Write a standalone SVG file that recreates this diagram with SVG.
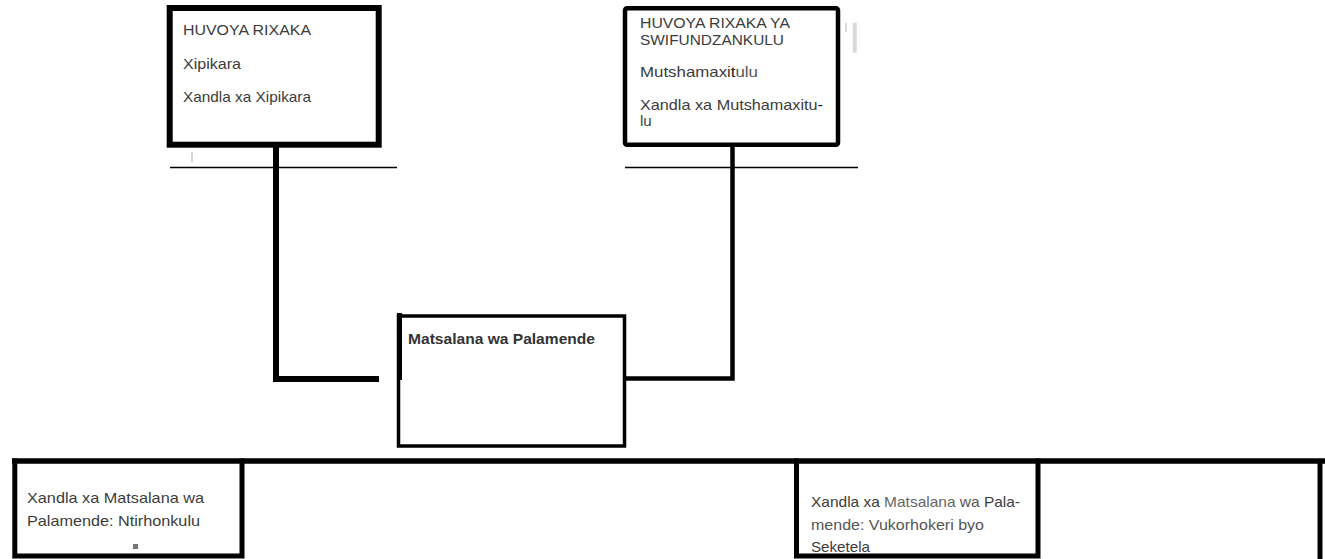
<svg xmlns="http://www.w3.org/2000/svg" width="1325" height="559" viewBox="0 0 1325 559">
<style>
.t{font-family:"Liberation Sans",Arial,sans-serif;font-size:15px;fill:#3c3c3c}
.b{font-weight:bold;fill:#333}
.box{fill:#fff;stroke:#000}
.ln{stroke:#000;fill:none}
.thin{stroke:#000;stroke-width:1.5;fill:none}
.ghost{fill:#d9d9d9}
</style>
<rect width="1325" height="559" fill="#fff"/>
<g id="connectors">
  <line class="thin" x1="170" y1="167.5" x2="397" y2="167.5"/>
  <line class="thin" x1="625" y1="167.5" x2="858" y2="167.5"/>
  <polyline class="ln" stroke-width="6" points="276,147 276,379 379,379"/>
  <polyline class="ln" stroke-width="4.5" points="626,378.5 732.5,378.5 732.5,146"/>
</g>
<g id="node-huvoya-rixaka">
  <rect class="box" x="169.7" y="8" width="209" height="136.7" stroke-width="6"/>
  <text class="t" x="183" y="35" textLength="128" lengthAdjust="spacingAndGlyphs">HUVOYA RIXAKA</text>
  <text class="t" x="183" y="69" textLength="58" lengthAdjust="spacingAndGlyphs">Xipikara</text>
  <text class="t" x="183" y="102" textLength="128" lengthAdjust="spacingAndGlyphs">Xandla xa Xipikara</text>
  <rect class="ghost" x="191" y="152" width="2" height="10"/>
</g>
<g id="node-huvoya-swifundzankulu">
  <rect class="box" x="625" y="8.2" width="213" height="136.5" rx="2" stroke-width="4.5"/>
  <text class="t" x="640" y="28" textLength="150" lengthAdjust="spacingAndGlyphs">HUVOYA RIXAKA YA</text>
  <text class="t" x="640" y="45" textLength="144" lengthAdjust="spacingAndGlyphs">SWIFUNDZANKULU</text>
  <text class="t" x="640" y="77" textLength="118" lengthAdjust="spacingAndGlyphs">Mutshamaxi<tspan fill="#222">t</tspan><tspan fill="#555">ulu</tspan></text>
  <text class="t" x="640" y="110" textLength="183" lengthAdjust="spacingAndGlyphs">Xandla xa Mutshamaxitu<tspan fill="#111">-</tspan></text>
  <text class="t" x="640" y="126" font-size="12">lu</text>
  <rect class="ghost" x="845" y="22.7" width="2" height="9"/>
  <rect class="ghost" x="852.7" y="22.7" width="4" height="30"/>
</g>
<g id="node-matsalana">
  <rect class="box" x="398.5" y="316" width="226" height="130" stroke-width="3.5"/>
  <line class="ln" x1="399.5" y1="313" x2="399.5" y2="380" stroke-width="5"/>
  <text class="t b" x="408" y="344" textLength="187" lengthAdjust="spacingAndGlyphs">Matsalana wa Palamende</text>
</g>
<g id="bottom-frame">
  <line class="ln" x1="12" y1="461" x2="1325" y2="461" stroke-width="5.5"/>
  <line class="ln" x1="1320" y1="461" x2="1320" y2="559" stroke-width="5"/>
</g>
<g id="node-ntirhonkulu">
  <path class="ln" d="M14.8,458.5 V556 H242 V458.5" stroke-width="5"/>
  <text class="t" x="27" y="502.5" textLength="177" lengthAdjust="spacingAndGlyphs">Xandla xa Matsalana wa</text>
  <text class="t" x="27" y="526" textLength="173" lengthAdjust="spacingAndGlyphs">Palamende: Ntirhonkulu</text>
  <rect x="133" y="544" width="5" height="5" fill="#777"/>
</g>
<g id="node-vukorhokeri">
  <path class="ln" d="M796.5,458.5 V556 H1038 V458.5" stroke-width="5"/>
  <text class="t" x="811" y="506.5" textLength="209" lengthAdjust="spacingAndGlyphs">Xandla xa <tspan fill="#666">Matsalana</tspan> <tspan fill="#555">wa</tspan> Pala-</text>
  <text class="t" x="811" y="529.5" textLength="173" lengthAdjust="spacingAndGlyphs"><tspan fill="#555">mende: Vukorhokeri byo</tspan></text>
  <text class="t" x="811" y="551.5" textLength="59" lengthAdjust="spacingAndGlyphs">Seketela</text>
</g>
</svg>
